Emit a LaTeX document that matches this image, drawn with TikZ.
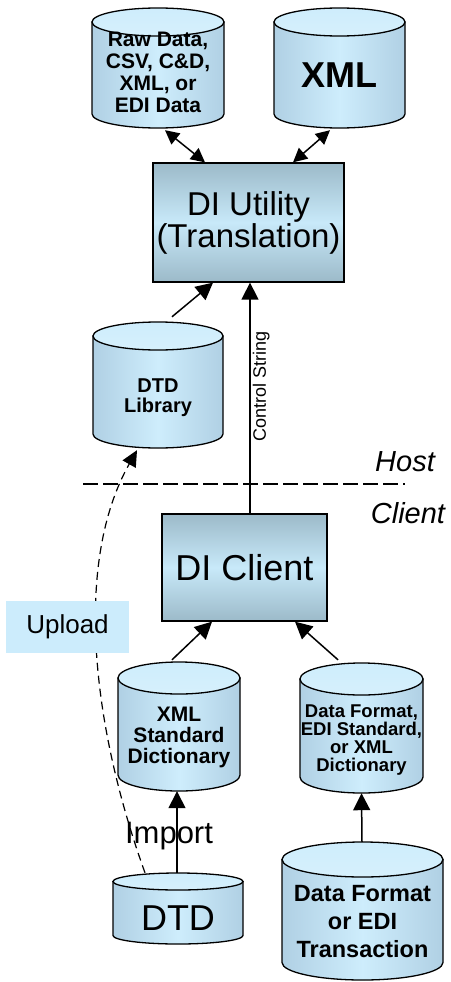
\documentclass[tikz,border=0pt]{standalone}
\usepackage{fontspec}
\setmainfont{Liberation Sans}
\usepackage{tikz}
\usetikzlibrary{arrows.meta,calc}

\definecolor{cylside}{RGB}{176,208,228}
\definecolor{cylmid}{RGB}{206,237,252}
\definecolor{cyltopc}{RGB}{214,240,252}
\definecolor{boxedge}{RGB}{156,186,201}
\definecolor{boxmid}{RGB}{200,233,249}
\definecolor{uplfill}{RGB}{204,236,252}

\tikzset{
  cylbody/.style={draw=black,line width=1.3pt,left color=cylside,right color=cylside,middle color=cylmid},
  cylcap/.style={draw=black,line width=1.3pt,top color=cylmid,bottom color=cyltopc},
  procbox/.style={draw=black,line width=1.3pt,top color=boxedge,bottom color=boxedge,middle color=boxmid,inner sep=0pt},
  arr/.style={line width=1.5pt,-{Triangle[length=17pt,width=17pt]}},
  darr/.style={line width=1.5pt,{Triangle[length=14pt,width=14pt]}-{Triangle[length=14pt,width=14pt]}},
}

% #1 name, #2 cx, #3 top, #4 bottom, #5 half width, #6 ry, #7 text y, #8 font, #9 text
\newcommand{\dbcan}[9]{%
  \path[cylbody] (#2-#5,-#3-#6) -- (#2-#5,-#4+#6)
    arc[start angle=180,end angle=360,x radius=#5,y radius=#6] -- (#2+#5,-#3-#6) -- cycle;
  \path[cylcap] (#2,-#3-#6) ellipse[x radius=#5,y radius=#6];
  \node[inner sep=0pt,minimum width={2*#5pt},minimum height={(#4-#3)*1pt}] (#1) at (#2,{-(#3+#4)/2}) {};
  \node[font=#8,align=center,inner sep=0pt] (#1-txt) at (#2,-#7) {#9};
}

\begin{document}
\begin{tikzpicture}[x=1pt,y=1pt]
\useasboundingbox (0,0) rectangle (450,-982);

% data stores
\dbcan{raw}{158}{8}{128}{66}{14}{72}{\bfseries\fontsize{21}{22}\selectfont}{Raw Data,\\CSV, C\&D,\\XML, or\\EDI Data}
\dbcan{xmlc}{339.5}{8}{128}{65.5}{14}{75}{\bfseries\fontsize{36}{38}\selectfont}{XML}
\dbcan{lib}{158}{322}{448}{65}{14}{398}{\bfseries\fontsize{20}{20}\selectfont}{DTD\\Library}
\dbcan{xstd}{179}{662}{791}{61}{16}{737}{\bfseries\fontsize{21}{21}\selectfont}{XML\\Standard\\Dictionary}
\dbcan{dfed}{361.5}{663}{793}{61.5}{16}{740}{\bfseries\fontsize{18.5}{18.3}\selectfont}{Data Format,\\EDI Standard,\\or XML\\Dictionary}
\dbcan{dtd}{178}{873}{944}{65}{8.5}{918}{\fontsize{36}{38}\selectfont}{DTD}
\dbcan{trans}{362.5}{842}{980}{80.5}{17.5}{922}{\bfseries\fontsize{23.5}{28}\selectfont}{Data Format\\or EDI\\Transaction}

% processes
\node[procbox,minimum width=191pt,minimum height=119pt,align=center,font=\fontsize{33}{32}\selectfont] (util) at (248.5,-222.5) {DI Utility\\(Translation)};
\node[procbox,minimum width=165pt,minimum height=107pt,font=\fontsize{36}{36}\selectfont] (client) at (244.5,-567.5) {DI Client};

% host / client split
\coordinate (sepL) at (83,-484);
\coordinate (sepR) at (405,-484);
\draw[line width=1.1pt,dash pattern=on 15pt off 5pt] (sepL) -- (sepR);
\node[font=\itshape\fontsize{29}{30}\selectfont] (host) at (405,-462) {Host};
\node[font=\itshape\fontsize{29}{30}\selectfont] (cli) at (408,-513) {Client};

% connectors
\draw[darr] ([xshift=7pt,yshift=-2pt]raw.south) -- ([xshift=-43.5pt]util.north);
\draw[darr] ([xshift=-9.5pt,yshift=-2pt]xmlc.south) -- ([xshift=44.5pt]util.north);
\draw[arr] ([xshift=14pt,yshift=5pt]lib.north) -- ([xshift=-35.5pt]util.south);
\draw[arr] ([xshift=5.5pt]client.north) -- node[pos=0.55,rotate=90,anchor=north,inner sep=2pt,font=\fontsize{18}{19}\selectfont]{Control String} ([xshift=1.5pt]util.south);
\draw[arr] ([xshift=-7pt,yshift=2pt]xstd.north) -- ([xshift=-32.5pt]client.south);
\draw[arr] ([xshift=-23.5pt,yshift=3pt]dfed.north) -- ([xshift=50.5pt]client.south);
\draw[arr] ([xshift=-1pt]dtd.north) -- node[pos=0.45,font=\fontsize{31}{32}\selectfont,xshift=-8pt]{Import} ([xshift=-2pt]xstd.south);
\draw[arr] ([xshift=-0.5pt]trans.north) -- (dfed.south);

% upload path
\draw[line width=1.2pt,dash pattern=on 8pt off 5pt,-{Triangle[length=16pt,width=15pt]}] ([xshift=-33pt]dtd.north) .. controls (90,-720) and (75,-560) .. ([xshift=-21pt,yshift=-2pt]lib.south);
\node[fill=uplfill,minimum width=123pt,minimum height=52pt,inner sep=0pt,font=\fontsize{26}{27}\selectfont] (upload) at (67.5,-627) {Upload};
\end{tikzpicture}
\end{document}
